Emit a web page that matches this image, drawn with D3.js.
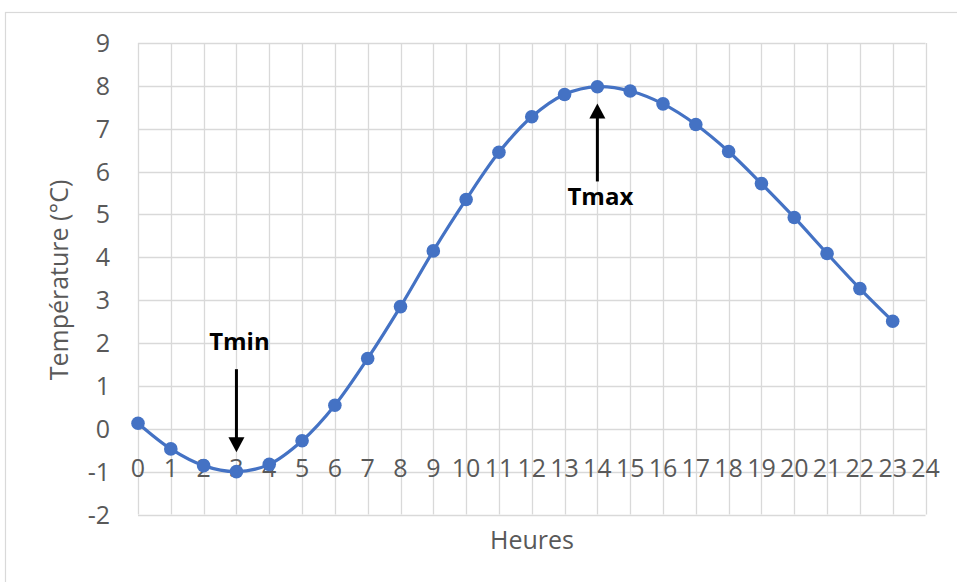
<!DOCTYPE html>
<html><head><meta charset="utf-8">
<script src="https://cdn.jsdelivr.net/npm/d3@7"></script>
<style>body{margin:0;background:#fff}svg{display:block}</style>
</head><body>
<svg id="c" width="957" height="582"></svg>
<script>
const hours = [0,1,2,3,4,5,6,7,8,9,10,11,12,13,14,15,16,17,18,19,20,21,22,23];
const temps = [0.13,-0.47,-0.86,-1.0,-0.83,-0.28,0.55,1.64,2.85,4.15,5.35,6.45,7.28,7.8,7.98,7.88,7.58,7.1,6.47,5.72,4.93,4.09,3.27,2.51];
const xTicks = d3.range(0,25);
const yTicks = d3.range(-2,10);
const annotations = [
  {label:"Tmin", hour:3, from:1.39, to:-0.55, text:1.83},
  {label:"Tmax", hour:14, from:5.77, to:7.59, text:5.22}
];
const xTitle = "Heures", yTitle = "Température (°C)";

const svg = d3.select("#c");
const font = "'Open Sans', sans-serif";
const x = d3.scaleLinear().domain([0,24]).range([138,925.5]);
const y = d3.scaleLinear().domain([-2,9]).range([514.5,43]);

// chart border
svg.append("rect").attr("x",5.5).attr("y",12.5).attr("width",1100).attr("height",1000)
  .attr("fill","none").attr("stroke","#d9d9d9").attr("stroke-width",1.2);

const grid = svg.append("g").attr("stroke","#d9d9d9").attr("stroke-width",1.3);
grid.selectAll(".h").data(yTicks).join("line")
  .attr("x1",x(0)).attr("x2",x(24)).attr("y1",d=>Math.round(y(d))+0.5).attr("y2",d=>Math.round(y(d))+0.5);
grid.selectAll(".v").data(xTicks).join("line")
  .attr("y1",y(-2)).attr("y2",y(9)).attr("x1",d=>Math.round(x(d))+0.5).attr("x2",d=>Math.round(x(d))+0.5);

// y axis labels
svg.append("g").selectAll("text").data(yTicks).join("text")
  .attr("x",110).attr("y",d=>y(d)+9).attr("text-anchor","end")
  .attr("font-family",font).attr("font-size",25).attr("fill","#595959").text(d=>d);

// x axis labels
svg.append("g").selectAll("text").data(xTicks).join("text")
  .attr("x",d=>x(d)).attr("y",477).attr("text-anchor","middle")
  .attr("font-family",font).attr("font-size",25).attr("fill","#595959").text(d=>d);

// titles
svg.append("text").attr("x",532).attr("y",549).attr("text-anchor","middle")
  .attr("font-family",font).attr("font-size",25).attr("fill","#595959").text(xTitle);
svg.append("text").attr("transform","translate(68,280) rotate(-90)").attr("text-anchor","middle")
  .attr("font-family",font).attr("font-size",25).attr("fill","#595959").text(yTitle);

// line
const data = hours.map((h,i)=>({h, t:temps[i]}));
svg.append("path").datum(data)
  .attr("d", d3.line().x(d=>x(d.h)).y(d=>y(d.t)).curve(d3.curveCatmullRom.alpha(0.5)))
  .attr("fill","none").attr("stroke","#4472C4").attr("stroke-width",3.2);
svg.append("g").selectAll("circle").data(data).join("circle")
  .attr("cx",d=>x(d.h)).attr("cy",d=>y(d.t)).attr("r",6.8).attr("fill","#4472C4");

// annotations
annotations.forEach(a=>{
  const cx = x(a.hour);
  const y0 = y(a.from), y1 = y(a.to);
  const dir = Math.sign(y1-y0);
  const headLen = 15, headW = 8;
  svg.append("line").attr("x1",cx).attr("x2",cx).attr("y1",y0).attr("y2",y1-dir*headLen+dir)
    .attr("stroke","#000").attr("stroke-width",3);
  svg.append("path").attr("d",`M${cx-headW},${y1-dir*headLen} L${cx+headW},${y1-dir*headLen} L${cx},${y1} Z`)
    .attr("fill","#000");
  svg.append("text").attr("x",cx+3).attr("y",y(a.text)).attr("text-anchor","middle")
    .attr("font-family",font).attr("font-weight","bold").attr("font-size",24).attr("fill","#000").text(a.label);
});
</script>
</body></html>
